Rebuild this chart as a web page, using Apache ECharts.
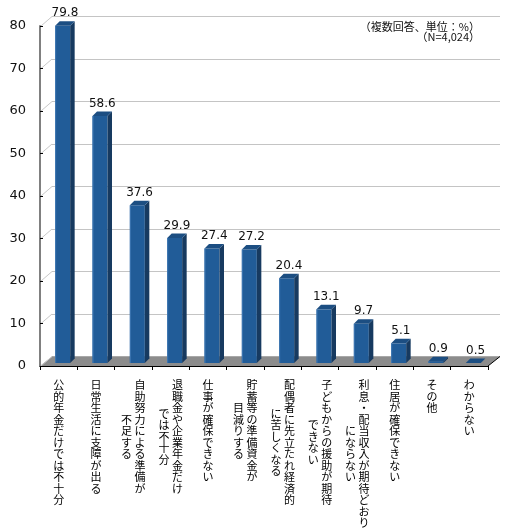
<!DOCTYPE html>
<html>
<head>
<meta charset="utf-8">
<script src="https://cdn.jsdelivr.net/npm/echarts@6/dist/echarts.min.js"></script>
<style>
  html, body { margin: 0; padding: 0; background: #fff; }
  #main { width: 520px; height: 532px; }
</style>
</head>
<body>
<div id="main"></div>
<script>
// categories: a '\n' starts the second (left-hand) vertical column
var categories = [
  '公的年金だけでは不十分',
  '日常生活に支障が出る',
  '自助努力による準備が\n不足する',
  '退職金や企業年金だけ\nでは不十分',
  '仕事が確保できない',
  '貯蓄等の準備資金が\n目減りする',
  '配偶者に先立たれ経済的\nに苦しくなる',
  '子どもからの援助が期待\nできない',
  '利息・配当収入が期待どおり\nにならない',
  '住居が確保できない',
  'その他',
  'わからない'
];
var values = [79.8, 58.6, 37.6, 29.9, 27.4, 27.2, 20.4, 13.1, 9.7, 5.1, 0.9, 0.5];
var yMin = 0, yMax = 80, yStep = 10;
var yTicks = [0, 10, 20, 30, 40, 50, 60, 70, 80];
var note = ['（複数回答、単位：%）', '（N=4,024）'];

var chart = echarts.init(document.getElementById('main'));

// depth of the floor / walls
var DX = 12, DY = 9.5;

// upright vertical text, built row by row (each row = half a character)
function verticalLabel(txt) {
  var cols = txt.split('\n');
  var a = Array.from(cols[0]);
  var b = cols[1] ? Array.from(cols[1]) : null;
  var rows = [];
  var i;
  if (!b) {
    for (i = 0; i < a.length * 2; i++) rows.push(i % 2 === 0 ? a[i / 2] : '　');
    return rows.join('\n');
  }
  var off = a.length - b.length;
  var n = Math.max(a.length * 2, b.length * 2 + off);
  for (i = 0; i < n; i++) {
    var j = i - off;
    var left = (j >= 0 && j % 2 === 0 && b[j / 2]) ? b[j / 2] : '　';
    var right = (i % 2 === 0 && a[i / 2]) ? a[i / 2] : '　';
    rows.push(left + ' ' + right);
  }
  return rows.join('\n');
}

function renderFloor(params, api) {
  var cs = params.coordSys;
  var y0 = cs.y + cs.height;
  var kids = [];
  kids.push({
    type: 'polygon',
    shape: { points: [[cs.x, y0], [cs.x + cs.width, y0], [cs.x + cs.width + DX, y0 - DY], [cs.x + DX, y0 - DY]] },
    style: { fill: '#8c8c8c' }
  });
  kids.push({
    type: 'line',
    shape: { x1: cs.x + cs.width, y1: y0, x2: cs.x + cs.width + DX, y2: y0 - DY },
    style: { stroke: '#000', lineWidth: 1 }
  });
  yTicks.forEach(function (t) {
    var y = api.coord([0, t])[1];
    kids.push({
      type: 'line',
      shape: { x1: cs.x + 1, y1: y, x2: cs.x + DX, y2: y - DY },
      style: { stroke: '#c8c8c8', lineWidth: 1 }
    });
  });
  return { type: 'group', children: kids };
}

function renderBar(params, api) {
  var idx = api.value(0);
  var v = api.value(1);
  var top = api.coord([idx, v]);
  var base = api.coord([idx, 0]);
  var w = 15, dx = 4.5, dy = 4.5;
  var x = top[0] - 3.5;
  var yt = top[1] - 1;
  var yb = base[1] - 3;
  return {
    type: 'group',
    children: [
      { type: 'rect', shape: { x: x, y: yt, width: w, height: yb - yt }, style: { fill: '#215c98' } },
      { type: 'polygon', shape: { points: [[x + w, yt], [x + w + dx, yt - dy], [x + w + dx, yb - dy], [x + w, yb]] }, style: { fill: '#173a60' } },
      { type: 'polygon', shape: { points: [[x, yt], [x + w, yt], [x + w + dx, yt - dy], [x + dx, yt - dy]] }, style: { fill: '#1c4e82' } },
      { type: 'rect', shape: { x: x, y: yt, width: 1, height: yb - yt }, style: { fill: '#3f78b3' } },
      {
        type: 'text',
        style: {
          text: v.toFixed(1), x: x + (w + dx) / 2, y: yt - dy - 2,
          textAlign: 'center', textVerticalAlign: 'bottom',
          font: '12px "DejaVu Sans"', fill: '#111'
        }
      }
    ]
  };
}

var option = {
  animation: false,
  backgroundColor: '#fff',
  grid: [
    { left: 40, right: 32, top: 26, bottom: 166, outerBoundsMode: 'none', containLabel: false },
    { left: 40 + DX, right: 32 - DX, top: 26 - DY, bottom: 166 + DY, outerBoundsMode: 'none', containLabel: false }
  ],
  xAxis: [
    {
      type: 'category', gridIndex: 0, data: categories, z: 10,
      axisLine: { lineStyle: { color: '#000', width: 1 } },
      axisTick: { show: true, length: 4, lineStyle: { color: '#000' } },
      axisLabel: {
        interval: 0, margin: 16, color: '#000',
        fontFamily: '"Noto Sans CJK JP"', fontSize: 11, lineHeight: 5.75,
        formatter: verticalLabel
      }
    },
    { type: 'value', gridIndex: 1, min: 0, max: 1, show: false }
  ],
  yAxis: [
    {
      type: 'value', gridIndex: 0, min: yMin, max: yMax, interval: yStep, z: 10,
      axisLine: { show: true, lineStyle: { color: '#808080', width: 2 } },
      axisTick: { show: true, inside: true, length: 3, lineStyle: { color: '#000' } },
      axisLabel: { margin: 14, color: '#111', fontFamily: '"DejaVu Sans"', fontSize: 13 },
      splitLine: { show: false }
    },
    {
      type: 'value', gridIndex: 1, min: yMin, max: yMax, interval: yStep,
      axisLine: { show: false }, axisTick: { show: false }, axisLabel: { show: false },
      splitLine: { show: true, lineStyle: { color: '#c4c4c4', width: 1 } }
    }
  ],
  graphic: [{
    type: 'text', right: 40, top: 21,
    style: {
      text: note.join('\n'), textAlign: 'right',
      font: '11px "Noto Sans CJK JP"', lineHeight: 10, fill: '#111'
    }
  }],
  series: [
    {
      type: 'custom', xAxisIndex: 0, yAxisIndex: 0, z: 1,
      data: [[0, 0]], renderItem: renderFloor, silent: true
    },
    {
      type: 'custom', xAxisIndex: 0, yAxisIndex: 0, z: 3,
      data: values.map(function (v, i) { return [i, v]; }),
      renderItem: renderBar
    }
  ]
};

chart.setOption(option);
</script>
</body>
</html>
